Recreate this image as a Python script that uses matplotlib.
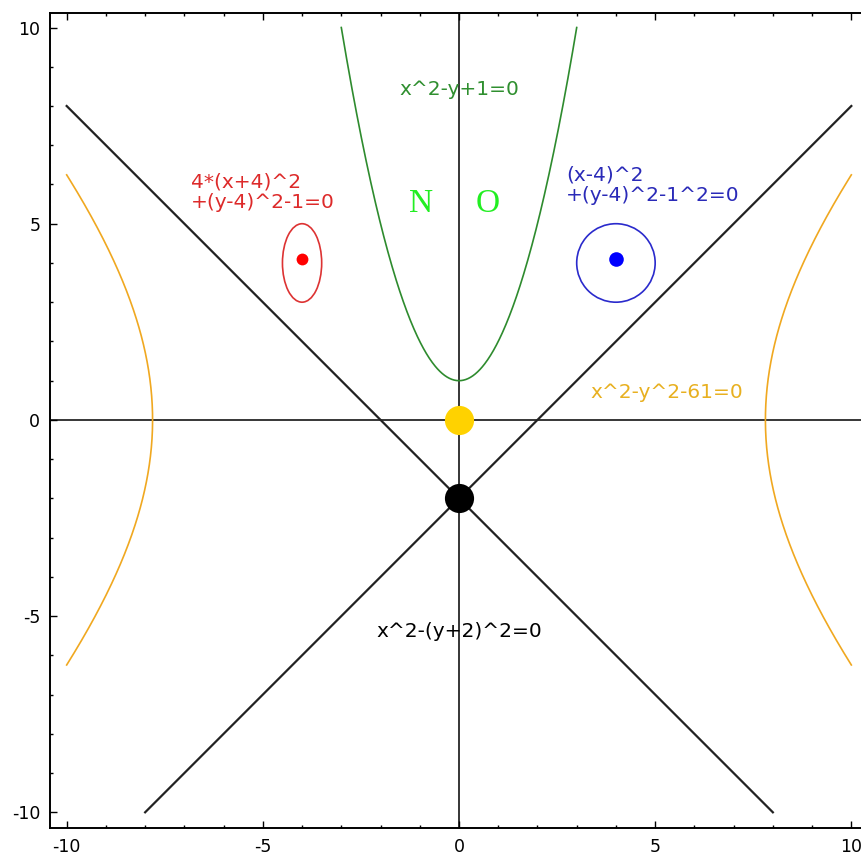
import numpy as np
import matplotlib
matplotlib.use('Agg')
import matplotlib.pyplot as plt
from matplotlib.patches import Ellipse
from matplotlib.ticker import MultipleLocator

plt.rcParams['axes.unicode_minus'] = False

# curves (implicit equations solved for plotting)
parab_x = np.linspace(-3, 3, 400)          # x^2 - y + 1 = 0
cross_x = np.linspace(-10, 8, 2)            # x^2 - (y+2)^2 = 0
hyp_y = np.linspace(-np.sqrt(39), np.sqrt(39), 400)   # x^2 - y^2 - 61 = 0
ellipse_c = (-4, 4)                         # 4*(x+4)^2 + (y-4)^2 - 1 = 0
ellipse_ab = (0.5, 1.0)
circle_c = (4, 4)                           # (x-4)^2 + (y-4)^2 - 1^2 = 0
circle_r = 1.0

points_x = [-4, 4, 0, 0]
points_y = [4.1, 4.1, 0, -2]
points_col = ['red', 'blue', '#ffd200', 'black']
points_ms = [8.5, 10.5, 21, 21]

labels = ['x^2-y+1=0', '4*(x+4)^2\n+(y-4)^2-1=0', '(x-4)^2\n+(y-4)^2-1^2=0',
          'x^2-y^2-61=0', 'x^2-(y+2)^2=0']
label_xy = [(0, 8.41), (-6.83, 5.81), (2.73, 5.99), (5.3, 0.69), (0, -5.4)]
label_col = ['#2f8f2f', '#dd2a2a', '#2a2ab8', '#e8b020', 'black']
label_ha = ['center', 'left', 'left', 'center', 'center']

fig = plt.figure(figsize=(8.62, 8.56), dpi=100)
ax = fig.add_axes([50 / 862, 28 / 856, 818 / 862, 815 / 856])

ax.axhline(0, color='black', lw=1.1, zorder=1)
ax.axvline(0, color='black', lw=1.1, zorder=1)

ax.plot(parab_x, parab_x ** 2 + 1, color='#2e8b2e', lw=1.2)
ax.plot(cross_x, -cross_x - 2, color='#222222', lw=1.6)
ax.plot(-cross_x, -cross_x - 2, color='#222222', lw=1.6)
hx = np.sqrt(61 + hyp_y ** 2)
ax.plot(hx, hyp_y, color='#f0a820', lw=1.2)
ax.plot(-hx, hyp_y, color='#f0a820', lw=1.2)

ax.add_patch(Ellipse(ellipse_c, 2 * ellipse_ab[0], 2 * ellipse_ab[1],
                     fill=False, ec='#dd3333', lw=1.2))
ax.add_patch(Ellipse(circle_c, 2 * circle_r, 2 * circle_r,
                     fill=False, ec='#2a2acc', lw=1.2))

for px, py, c, ms in zip(points_x, points_y, points_col, points_ms):
    ax.plot(px, py, 'o', color=c, ms=ms, mec='none', zorder=5)

for s, (lx, ly), c, ha in zip(labels, label_xy, label_col, label_ha):
    ax.text(lx, ly, s, color=c, ha=ha, va='center', fontsize=14.5,
            multialignment='left', linespacing=1.1)

ax.text(-0.97, 5.52, 'N', color='#22ee22', ha='center', va='center',
        fontsize=24, family='Liberation Serif')
ax.text(0.74, 5.52, 'O', color='#22ee22', ha='center', va='center',
        fontsize=24, family='Liberation Serif')

ax.set_xlim(-10.425, 10.425)
ax.set_ylim(-10.4, 10.37)
ax.xaxis.set_major_locator(MultipleLocator(5))
ax.yaxis.set_major_locator(MultipleLocator(5))
ax.xaxis.set_minor_locator(MultipleLocator(1))
ax.yaxis.set_minor_locator(MultipleLocator(1))
ax.tick_params(which='both', direction='in', top=True, right=True,
               labelsize=12.5, pad=7, width=1)
ax.tick_params(which='major', length=5)
ax.tick_params(which='minor', length=2.5)
for sp in ax.spines.values():
    sp.set_linewidth(1.4)

fig.savefig('out.png', dpi=100)
